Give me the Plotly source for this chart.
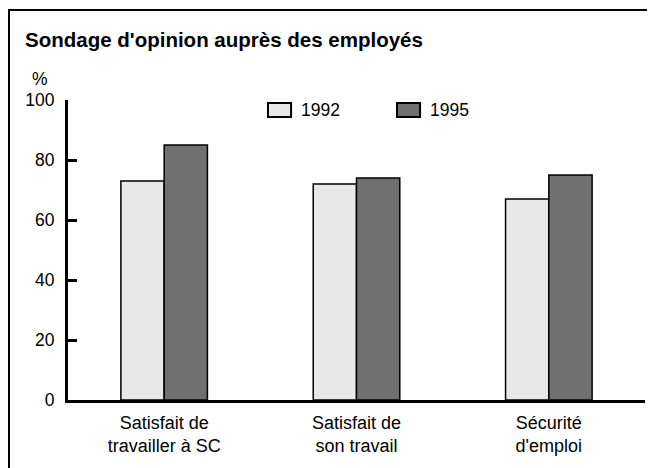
import plotly.graph_objects as go

# Data
categories = ["Satisfait de<br>travailler à SC", "Satisfait de<br>son travail", "Sécurité<br>d'emploi"]
years = ["1992", "1995"]
values_1992 = [73, 72, 67]
values_1995 = [85, 74, 75]
y_ticks = [0, 20, 40, 60, 80, 100]

colors = {"1992": "#e8e8e8", "1995": "#707070"}
font_family = "Arial, Liberation Sans, sans-serif"

fig = go.Figure()

for year, vals in zip(years, [values_1992, values_1995]):
    fig.add_trace(go.Bar(
        x=categories, y=vals, name=year, showlegend=False,
        marker=dict(color=colors[year], line=dict(color="black", width=1.5)),
    ))

fig.update_xaxes(
    showline=True, linecolor="black", linewidth=3,
    showgrid=False, ticks="", zeroline=False, automargin=False,
    range=[-0.5, 2.5], ticklabelstandoff=4,
    tickfont=dict(size=18, color="black"),
)
fig.update_yaxes(
    showline=True, linecolor="black", linewidth=3,
    showgrid=False, zeroline=False, automargin=False,
    range=[0, 100], tickvals=y_ticks,
    ticks="inside", ticklen=9, tickwidth=3, tickcolor="black",
    ticklabelstandoff=7,
    tickfont=dict(size=17.5, color="black"),
)

fig.update_layout(
    width=647, height=460,
    margin=dict(l=60, r=10, t=92, b=68),
    barmode="group", bargap=0.55, bargroupgap=0,
    plot_bgcolor="white", paper_bgcolor="white",
    font=dict(family=font_family, size=17.5, color="black"),
    showlegend=False,
)

# Legend drawn by hand (boxes wider than plotly's bar icons)
legend_x = [0.3466, 0.5702]
for year, lx in zip(years, legend_x):
    fig.add_shape(
        type="rect", xref="paper", yref="paper",
        x0=lx, x1=lx + 0.04, y0=0.9433, y1=0.99,
        line=dict(color="black", width=2), fillcolor=colors[year],
    )
    fig.add_annotation(
        text=year, xref="paper", yref="paper", x=lx + 0.054, y=0.9667,
        xanchor="left", yanchor="middle", showarrow=False, font=dict(size=17.5),
    )

# Title and axis unit
fig.add_annotation(
    text="<b>Sondage d'opinion auprès des employés</b>",
    xref="paper", yref="paper", x=-0.078, y=1.2033, xanchor="left", yanchor="middle",
    showarrow=False, font=dict(size=20.5, color="black"),
)
fig.add_annotation(
    text="%", xref="paper", yref="paper", x=-0.066, y=1.07,
    xanchor="left", yanchor="middle", showarrow=False, font=dict(size=17.5),
)

# Outer frame
fig.add_shape(
    type="rect", xref="paper", yref="paper",
    x0=-0.1023, x1=1.0156, y0=-0.3, y1=1.3,
    line=dict(color="black", width=2), fillcolor="rgba(0,0,0,0)",
)

fig.write_html("out.html")
